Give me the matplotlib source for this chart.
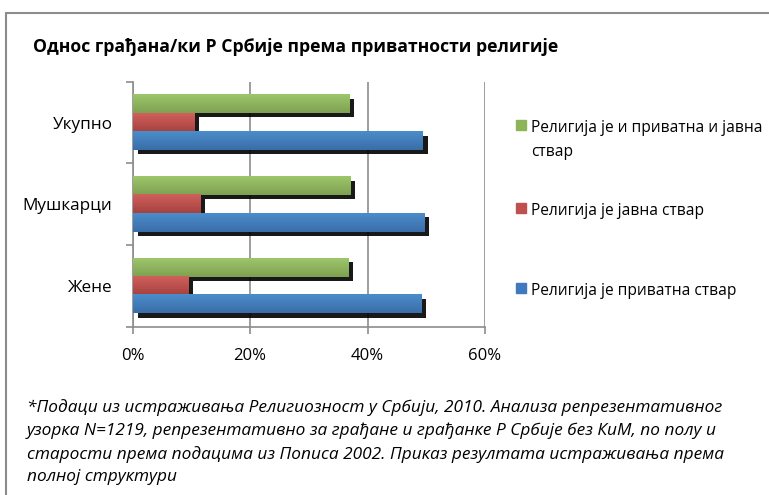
import numpy as np
import matplotlib.pyplot as plt
from matplotlib.patches import Rectangle
from matplotlib.colors import LinearSegmentedColormap

plt.rcParams['font.family'] = ['Open Sans', 'DejaVu Sans']

categories = ['Жене', 'Мушкарци', 'Укупно']
both = [36.7, 37.1, 36.8]       # религија је и приватна и јавна ствар
public = [9.4, 11.5, 10.4]      # религија је јавна ствар
private = [49.2, 49.6, 49.4]    # религија је приватна ствар
legend_labels = [['Религија је и приватна и јавна', 'ствар'],
                 ['Религија је јавна ствар'],
                 ['Религија је приватна ствар']]
xticks = [0, 20, 40, 60]
xtick_labels = ['0%', '20%', '40%', '60%']

title = 'Однос грађана/ки Р Србије према приватности религије'
note = ('*Подаци из истраживања Религиозност у Србији, 2010. Анализа репрезентативног\n'
        'узорка N=1219, репрезентативно за грађане и грађанке Р Србије без КиМ, по полу и\n'
        'старости према подацима из Пописа 2002. Приказ резултата истраживања према\n'
        'полној структури')

colors = ['#8db457', '#c0504d', '#4079bd']
# gradient ends (top, bottom) for each series
grads = [('#9dc66a', '#7fa152'), ('#d0605c', '#a6423f'), ('#4b8ccb', '#3a6ea8')]
W, H = 769, 495
fig = plt.figure(figsize=(W / 100, H / 100), dpi=100)

# outer frame (right edge runs off the picture)
fig.patches.append(Rectangle((6 / W, -0.1), 1.0, 1 - 13 / H + 0.1, transform=fig.transFigure,
                             fill=False, edgecolor='#8c8c8c', lw=1.5))

ax = fig.add_axes([132.7 / W, 1 - 326.7 / H, 352.2 / W, 245 / H])
y = np.arange(len(categories))
h = 0.225
series = [(both, h), (public, 0), (private, -h)]
dx, dy = 0.85, 0.05
for (vals, off), c in zip(series, colors):
    ax.barh(y + off - dy, vals, height=h, left=dx, color='black', alpha=0.9, zorder=2)
grad = np.linspace(0, 1, 32).reshape(-1, 1)
for (vals, off), c, g in zip(series, colors, grads):
    bars = ax.barh(y + off, vals, height=h, color=c, zorder=3)
    cmap = LinearSegmentedColormap.from_list('g', list(g))
    for b in bars:
        x0, y0 = b.get_x(), b.get_y()
        ax.imshow(grad, cmap=cmap, aspect='auto', origin='upper', zorder=3.5,
                  extent=[x0, x0 + b.get_width(), y0, y0 + b.get_height()])

ax.set_xlim(0, 60)
ax.set_ylim(-0.5, 2.5)
ax.set_xticks(xticks)
ax.set_xticklabels(xtick_labels, fontsize=12)
ax.set_yticks(y)
ax.set_yticklabels(categories, fontsize=12.3)
ax.set_yticks([-0.5, 0.5, 1.5, 2.5], minor=True)
ax.tick_params(axis='y', which='major', length=0, pad=14.5)
ax.tick_params(axis='y', which='minor', length=5, color='#8c8c8c', width=1.2)
ax.tick_params(axis='x', length=5, color='#8c8c8c', width=1.2, pad=10)
ax.grid(axis='x', color='#8c8c8c', lw=1.2, zorder=1)
for s in ['top', 'right']:
    ax.spines[s].set_visible(False)
for s in ['left', 'bottom']:
    ax.spines[s].set_color('#8c8c8c')
    ax.spines[s].set_linewidth(1.2)

fig.text(33 / W, 1 - 47 / H, title, fontsize=12.7, fontweight='bold', va='center')

# legend
leg_y = [128, 211, 291]
for lines, c, ly in zip(legend_labels, colors, leg_y):
    fig.patches.append(Rectangle((516 / W, 1 - (ly + 2) / H), 10 / W, 10 / H,
                                 transform=fig.transFigure, color=c))
    for k, line in enumerate(lines):
        fig.text(531 / W, 1 - (ly + 24 * k) / H, line, fontsize=11.2, va='center')

fig.text(27 / W, 1 - 399 / H, note, fontsize=12.4, style='italic', va='top', linespacing=1.52)

fig.savefig('out.png', dpi=100)
